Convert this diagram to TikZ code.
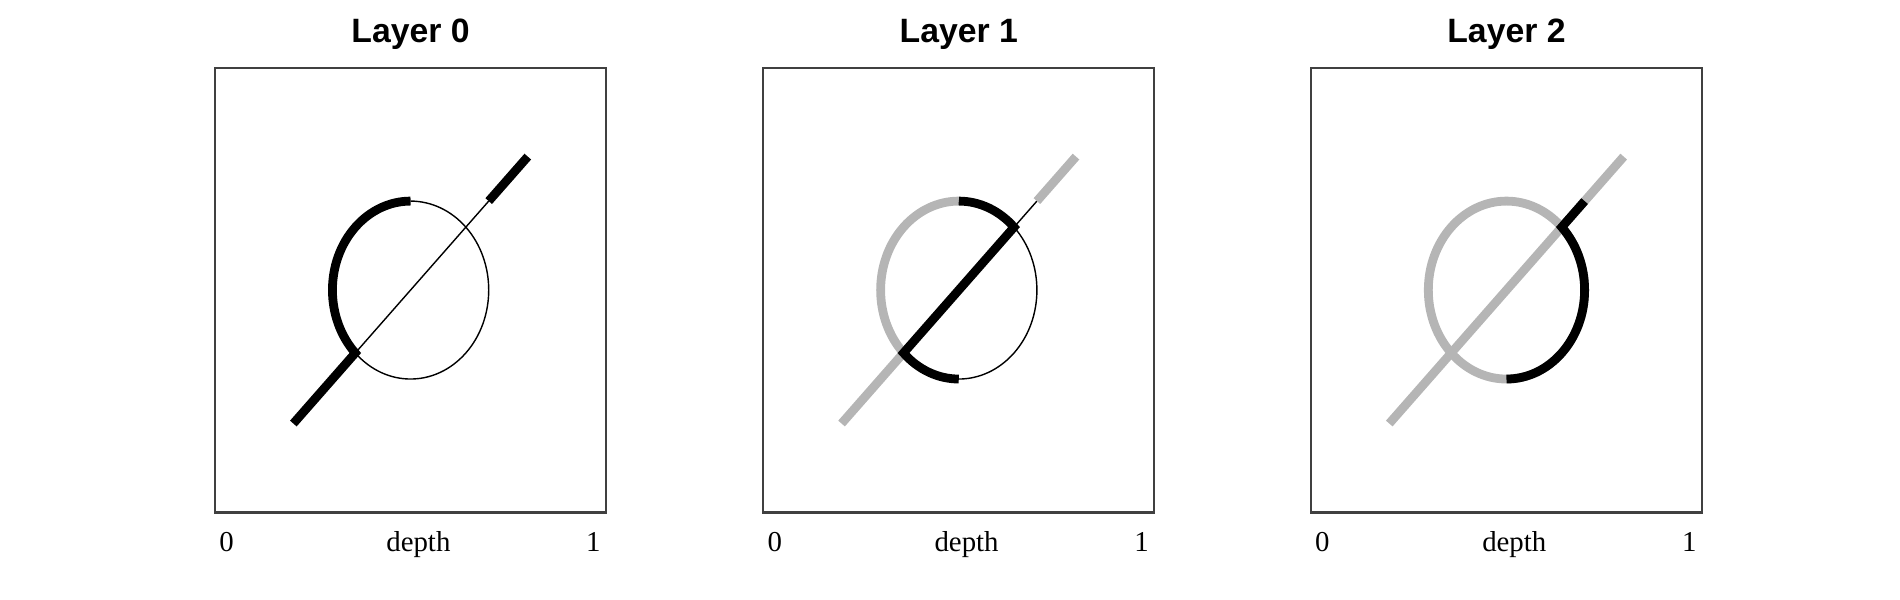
\documentclass[tikz,border=0pt]{standalone}
\usepackage{fontspec}
\setmainfont{Liberation Serif}
\newfontfamily\headfont{Liberation Sans}
\begin{document}
\begin{tikzpicture}[x=0.01cm, y=0.01cm,
    units/.style={x=3.905cm, y=4.446cm},
    panelframe/.style={line width=0.6pt, black!75},
    head/.style={font=\headfont\bfseries\fontsize{9.6}{11}\selectfont, anchor=base},
    axlabel/.style={font=\fontsize{8.2}{10}\selectfont, anchor=base},
    active/.style={line width=2.5pt, black},
    visited/.style={line width=2.5pt, black!29},
    idle/.style={line width=0.4pt, black}]
  \useasboundingbox (0,0) rectangle (1900,600);
  % frames, titles, depth axis and the key points of each layer
  \foreach \i/\xo in {0/215.2, 1/763.4, 2/1311.1} {
    \begin{scope}[shift={(\xo,87.5)}, units]
      \draw[panelframe] (0,0) rectangle (1,1);
      \node[head] (title\i) at (0.5,1.057) {Layer \i};
      \node[axlabel] (zero\i) at (0.029,-0.087) {0};
      \node[axlabel] (depth\i) at (0.52,-0.087) {depth};
      \node[axlabel] (one\i) at (0.968,-0.087) {1};
      \coordinate (c\i) at (0.5,0.5);
      \coordinate (top\i) at (0.5,0.7);
      \coordinate (bot\i) at (0.5,0.3);
      \coordinate (in\i) at (0.2,0.2);
      \coordinate (lo\i) at (0.3586,0.3586);
      \coordinate (hi\i) at (0.6414,0.6414);
      \coordinate (mid\i) at (0.7,0.7);
      \coordinate (out\i) at (0.8,0.8);
    \end{scope}
  }
  % layer 0: left half of the ring is taken
  \begin{scope}[units]
    \draw[idle] (lo0) arc[start angle=225, end angle=450, radius=0.2];
    \draw[idle] (lo0) -- (mid0);
    \draw[active] (in0) -- (lo0) arc[start angle=225, end angle=90, radius=0.2];
    \draw[active] (mid0) -- (out0);
  \end{scope}
  % layer 1: earlier path in grey, chord through the middle
  \begin{scope}[units]
    \draw[idle] (hi1) arc[start angle=45, end angle=-90, radius=0.2];
    \draw[idle] (hi1) -- (mid1);
    \draw[visited] (in1) -- (lo1) arc[start angle=225, end angle=90, radius=0.2];
    \draw[visited] (mid1) -- (out1);
    \draw[active] (top1) arc[start angle=90, end angle=45, radius=0.2] -- (lo1)
      arc[start angle=225, end angle=270, radius=0.2];
  \end{scope}
  % layer 2: everything visited, right side closes the loop
  \begin{scope}[units]
    \draw[visited] (in2) -- (out2);
    \draw[visited] (c2) circle[radius=0.2];
    \draw[active] (bot2) arc[start angle=270, end angle=405, radius=0.2] -- (mid2);
  \end{scope}
\end{tikzpicture}
\end{document}
